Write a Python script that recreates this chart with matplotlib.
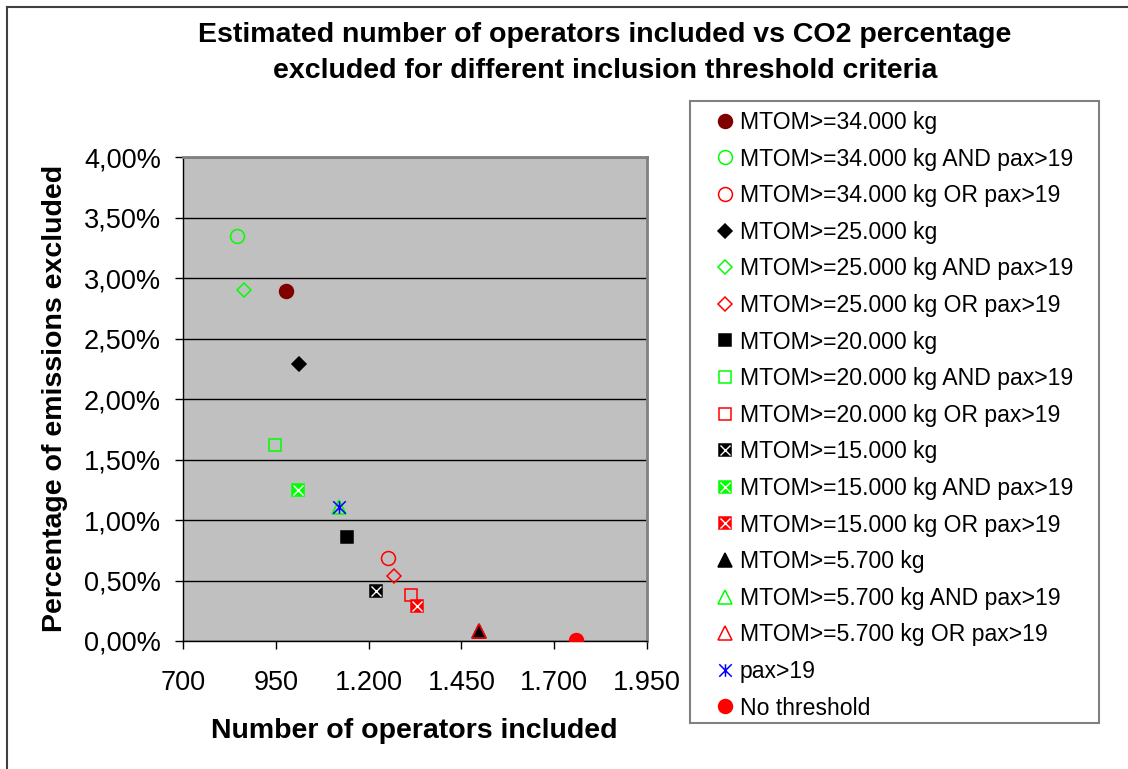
import matplotlib
matplotlib.use("Agg")
import matplotlib.pyplot as plt
from matplotlib.path import Path
from matplotlib.legend_handler import HandlerTuple
from matplotlib.ticker import FuncFormatter
from matplotlib.lines import Line2D
from matplotlib.patches import Rectangle

plt.rcParams['font.family'] = ['Liberation Sans', 'DejaVu Sans']

# ---- data ----
series_labels = [
    "MTOM>=34.000 kg", "MTOM>=34.000 kg AND pax>19", "MTOM>=34.000 kg OR pax>19",
    "MTOM>=25.000 kg", "MTOM>=25.000 kg AND pax>19", "MTOM>=25.000 kg OR pax>19",
    "MTOM>=20.000 kg", "MTOM>=20.000 kg AND pax>19", "MTOM>=20.000 kg OR pax>19",
    "MTOM>=15.000 kg", "MTOM>=15.000 kg AND pax>19", "MTOM>=15.000 kg OR pax>19",
    "MTOM>=5.700 kg", "MTOM>=5.700 kg AND pax>19", "MTOM>=5.700 kg OR pax>19",
    "pax>19", "No threshold",
]
operators_included = [977, 845, 1251, 1012, 864, 1268, 1143, 948, 1314,
                      1220, 1011, 1330, 1498, 1121, 1498, 1121, 1758]
pct_excluded = [2.89, 3.35, 0.685, 2.29, 2.90, 0.536, 0.856, 1.62, 0.38,
                0.41, 1.25, 0.286, 0.08, 1.11, 0.08, 1.11, 0.01]
x_ticks = [700, 950, 1200, 1450, 1700, 1950]
y_ticks = [0.0, 0.5, 1.0, 1.5, 2.0, 2.5, 3.0, 3.5, 4.0]

# ---- styles ----
GREEN = '#00FF00'
RED = '#FF0000'
asterisk = Path([(0, -1), (0, 1), (-1, -1), (1, 1), (-1, 1), (1, -1)],
                [Path.MOVETO, Path.LINETO, Path.MOVETO, Path.LINETO, Path.MOVETO, Path.LINETO])

styles = [
    dict(marker='o', ms=10, mfc='#800000', mec='#800000'),
    dict(marker='o', ms=10, mfc='none', mec=GREEN),
    dict(marker='o', ms=10, mfc='none', mec=RED),
    dict(marker='D', ms=7, mfc='black', mec='black'),
    dict(marker='D', ms=7.5, mfc='none', mec=GREEN),
    dict(marker='D', ms=7.5, mfc='none', mec=RED),
    dict(marker='s', ms=8.5, mfc='black', mec='black'),
    dict(marker='s', ms=9, mfc='none', mec=GREEN),
    dict(marker='s', ms=9, mfc='none', mec=RED),
    dict(marker='s', ms=9, mfc='black', mec='black', cross=True),
    dict(marker='s', ms=9, mfc=GREEN, mec=GREEN, cross=True),
    dict(marker='s', ms=9, mfc=RED, mec=RED, cross=True),
    dict(marker='^', ms=10.5, mfc='black', mec='black'),
    dict(marker='^', ms=10.5, mfc='none', mec=GREEN),
    dict(marker='^', ms=10.5, mfc='none', mec=RED),
    dict(marker=asterisk, ms=9, mfc='none', mec='#0000FF'),
    dict(marker='o', ms=10, mfc=RED, mec=RED),
]

W, H = 1128, 769
fig = plt.figure(figsize=(W / 100, H / 100), dpi=100)
fig.patch.set_facecolor('white')

ax = fig.add_axes([183 / W, 1 - 641 / H, (647 - 183) / W, (641 - 157) / H])
ax.set_facecolor('#C0C0C0')

handles = []
for i, (lab, x, y, st) in enumerate(zip(series_labels, operators_included, pct_excluded, styles)):
    st = dict(st)
    cross = st.pop('cross', False)
    ms = st.pop('ms')
    h1, = ax.plot([x], [y], linestyle='none', markersize=ms, markeredgewidth=1.1,
                  zorder=3 + i * 0.01, **st)
    if cross:
        h2, = ax.plot([x], [y], linestyle='none', marker='x', markersize=ms * 0.75,
                      markeredgewidth=1.0, color='white', zorder=3 + i * 0.01 + 0.005)
        handles.append((h1, h2))
    else:
        handles.append(h1)

ax.set_xlim(700, 1950)
ax.set_ylim(0, 4)
ax.set_xticks(x_ticks)
ax.set_yticks(y_ticks)
ax.xaxis.set_major_formatter(FuncFormatter(lambda v, p: f"{int(v):,}".replace(",", ".")))
ax.yaxis.set_major_formatter(FuncFormatter(lambda v, p: f"{v:.2f}%".replace(".", ",")))
ax.yaxis.grid(True, color='black', linewidth=1.0)
ax.set_axisbelow(True)
ax.tick_params(axis='both', direction='out', length=6, width=1, colors='black', labelsize=19.5)
ax.tick_params(axis='y', pad=10)
ax.tick_params(axis='x', pad=15)
for s in ['top', 'right']:
    ax.spines[s].set_color('#808080')
    ax.spines[s].set_linewidth(2)
for s in ['left', 'bottom']:
    ax.spines[s].set_color('black')
    ax.spines[s].set_linewidth(1)

fig.text(605 / W, 1 - 53 / H, "Estimated number of operators included vs CO2 percentage\nexcluded for different inclusion threshold criteria",
         ha='center', va='center', fontsize=20.5, fontweight='bold', linespacing=1.45)
fig.text(414 / W, 1 - 731 / H, "Number of operators included", ha='center', va='center',
         fontsize=20.5, fontweight='bold')
fig.text(55 / W, 1 - 398 / H, "Percentage of emissions excluded", ha='center', va='center',
         fontsize=20.5, fontweight='bold', rotation=90)

# legend frame drawn separately
fig.add_artist(Rectangle((690 / W, 1 - 723 / H), (1099 - 690) / W, (723 - 101) / H,
                         transform=fig.transFigure, facecolor='white', edgecolor='#808080',
                         linewidth=1.5, zorder=1))

leg = fig.legend(handles, series_labels, loc='upper left',
                 bbox_to_anchor=(690 / W, 1 - 104 / H), bbox_transform=fig.transFigure,
                 fontsize=16.6, frameon=False, borderpad=0.3, labelspacing=0.59,
                 handlelength=2.43, handletextpad=-0.57, borderaxespad=0,
                 handler_map={tuple: HandlerTuple(ndivide=1)})
leg.set_zorder(2)

# outer chart border (left and top)
fig.add_artist(Line2D([7 / W, 7 / W], [0, 1 - 7 / H], transform=fig.transFigure, color='#404040', linewidth=1.5))
fig.add_artist(Line2D([7 / W, 1], [1 - 7 / H, 1 - 7 / H], transform=fig.transFigure, color='#404040', linewidth=1.5))

fig.savefig('out.png', dpi=100)
